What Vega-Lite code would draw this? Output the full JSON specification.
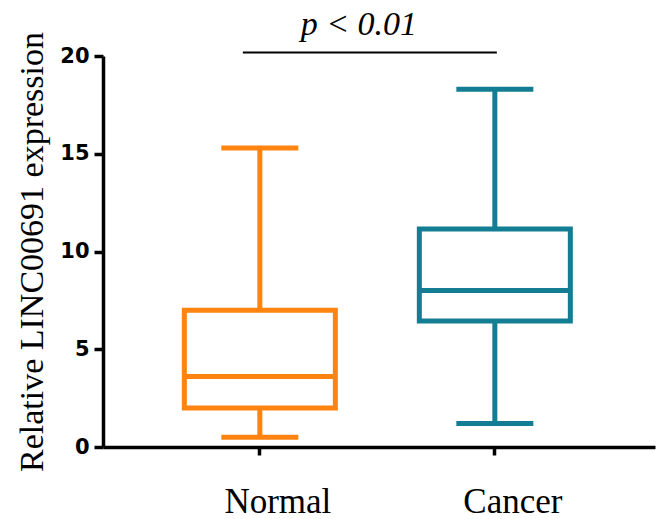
{
  "$schema": "https://vega.github.io/schema/vega-lite/v6.json",
  "width": 552,
  "height": 391,
  "autosize": {"type": "none"},
  "padding": {"left": 103, "right": 1, "top": 56, "bottom": 72},
  "background": "white",
  "config": {"view": {"stroke": null}},
  "datasets": {
    "stats": [
      {"group": "Normal", "min": 0.5, "q1": 2.0, "median": 3.6, "q3": 7.0, "max": 15.3},
      {"group": "Cancer", "min": 1.2, "q1": 6.45, "median": 8.0, "q3": 11.15, "max": 18.3}
    ],
    "sig": [
      {"from": "Normal", "to": "Cancer", "y": 20.18, "ty": 21.07, "label": "p < 0.01"}
    ]
  },
  "data": {"name": "stats"},
  "encoding": {
    "x": {
      "field": "group",
      "type": "nominal",
      "sort": ["Normal", "Cancer"],
      "scale": {"domain": ["Normal", "Cancer"], "paddingInner": 0.357, "paddingOuter": 0.353, "align": 0.49},
      "axis": {
        "title": null,
        "labelAngle": 0,
        "labelFont": "Liberation Serif",
        "labelFontSize": 35,
        "labelColor": "black",
        "labelBaseline": "alphabetic",
        "labelPadding": 57,
        "labelOffset": 18,
        "tickSize": 8,
        "tickWidth": 3.5,
        "tickColor": "black",
        "domainColor": "black",
        "domainWidth": 3.5
      }
    }
  },
  "layer": [
    {
      "mark": {"type": "bar", "width": 151, "fill": "white", "strokeWidth": 5},
      "encoding": {
        "y": {
          "field": "q1",
          "type": "quantitative",
          "scale": {"domain": [0, 20], "nice": false, "zero": true},
          "axis": {
            "values": [0, 5, 10, 15, 20],
            "grid": false,
            "title": "Relative LINC00691 expression",
            "titleFont": "Liberation Serif",
            "titleFontSize": 34,
            "titleFontWeight": "normal",
            "titleColor": "black",
            "titleAngle": -90,
            "titleBaseline": "alphabetic",
            "titleAlign": "center",
            "titleX": -61,
            "titleY": 195.5,
            "labelFont": "DejaVu Sans",
            "labelFontWeight": "bold",
            "labelFontSize": 21,
            "labelColor": "black",
            "labelPadding": 5,
            "tickSize": 9,
            "tickWidth": 3.5,
            "tickColor": "black",
            "domainColor": "black",
            "domainWidth": 3.5
          }
        },
        "y2": {"field": "q3"},
        "stroke": {
          "field": "group",
          "type": "nominal",
          "scale": {"domain": ["Normal", "Cancer"], "range": ["#FF8310", "#137D94"]},
          "legend": null
        }
      }
    },
    {
      "mark": {"type": "rule", "strokeWidth": 5},
      "encoding": {
        "y": {"field": "q3", "type": "quantitative"},
        "y2": {"field": "max"},
        "color": {"field": "group", "type": "nominal", "scale": {"domain": ["Normal", "Cancer"], "range": ["#FF8310", "#137D94"]}, "legend": null}
      }
    },
    {
      "mark": {"type": "rule", "strokeWidth": 5},
      "encoding": {
        "y": {"field": "min", "type": "quantitative"},
        "y2": {"field": "q1"},
        "color": {"field": "group", "type": "nominal", "scale": {"domain": ["Normal", "Cancer"], "range": ["#FF8310", "#137D94"]}, "legend": null}
      }
    },
    {
      "mark": {"type": "tick", "size": 77, "thickness": 5, "opacity": 1},
      "encoding": {
        "y": {"field": "max", "type": "quantitative"},
        "color": {"field": "group", "type": "nominal", "scale": {"domain": ["Normal", "Cancer"], "range": ["#FF8310", "#137D94"]}, "legend": null}
      }
    },
    {
      "mark": {"type": "tick", "size": 77, "thickness": 5, "opacity": 1},
      "encoding": {
        "y": {"field": "min", "type": "quantitative"},
        "color": {"field": "group", "type": "nominal", "scale": {"domain": ["Normal", "Cancer"], "range": ["#FF8310", "#137D94"]}, "legend": null}
      }
    },
    {
      "mark": {"type": "tick", "size": 151, "thickness": 5, "opacity": 1},
      "encoding": {
        "y": {"field": "median", "type": "quantitative"},
        "color": {"field": "group", "type": "nominal", "scale": {"domain": ["Normal", "Cancer"], "range": ["#FF8310", "#137D94"]}, "legend": null}
      }
    },
    {
      "data": {"name": "sig"},
      "mark": {"type": "rule", "color": "black", "strokeWidth": 2, "xOffset": -17, "x2Offset": 2},
      "encoding": {
        "x": {"field": "from", "type": "nominal"},
        "x2": {"field": "to"},
        "y": {"field": "y", "type": "quantitative"}
      }
    },
    {
      "data": {"name": "sig"},
      "mark": {"type": "text", "font": "Liberation Serif", "fontSize": 34, "fontStyle": "italic", "color": "black", "baseline": "alphabetic", "align": "center", "dx": 99},
      "encoding": {
        "x": {"field": "from", "type": "nominal"},
        "y": {"field": "ty", "type": "quantitative"},
        "text": {"field": "label"}
      }
    }
  ]
}
